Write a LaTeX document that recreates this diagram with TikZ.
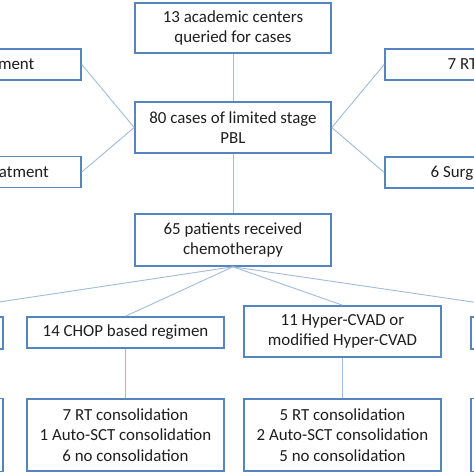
\documentclass[tikz,border=0pt]{standalone}
\usepackage{fontspec}
\setmainfont{Carlito}
\definecolor{boxblue}{RGB}{84,133,190}
\definecolor{linkblue}{RGB}{160,188,220}
\definecolor{txt}{RGB}{30,30,30}
\tikzset{
  box/.style={draw=boxblue, line width=1.6pt, fill=white, inner sep=0pt, align=center,
    font=\fontsize{16.9}{20.5}\selectfont, text=txt, minimum width=197pt},
  lbl/.style={inner sep=0pt, font=\fontsize{16.9}{20.5}\selectfont, text=txt},
  link/.style={draw=linkblue, line width=0.9pt}
}
\begin{document}
\begin{tikzpicture}[x=1pt,y=-1pt]
\useasboundingbox (0,0) rectangle (474,474);
\fill[white] (0,0) rectangle (474,474);
\clip (0,0) rectangle (474,474);
% main column
\node[box, minimum width=196pt, minimum height=50pt] (top) at (233,28) {13 academic centers\\queried for cases};
\node[box, minimum width=196pt, minimum height=51pt] (mid) at (233,127.5) {80 cases of limited stage\\PBL};
\node[box, minimum width=196pt, minimum height=52pt] (chemo) at (233,240) {65 patients received\\chemotherapy};
% side boxes (partly outside)
\node[box, minimum height=31pt] (l1) at (-17.5,64.5) {};
\node[box, minimum height=31pt] (l2) at (-17.5,172) {};
\node[box, minimum height=31pt] (r1) at (483.5,64.5) {};
\node[box, minimum height=31pt] (r2) at (483.5,172.5) {};
\node[lbl, anchor=base east] (l1t) at (34.5,69.5) {ment};
\node[lbl, anchor=base east] (l2t) at (49,177.5) {atment};
\node[lbl, anchor=base west] (r1t) at (447.5,69.5) {7 RT};
\node[lbl, anchor=base west] (r2t) at (430.5,177.5) {6 Surg};
% regimen row
\node[box, minimum height=32pt] (fl) at (-95.5,333) {};
\node[box, minimum height=31pt] (chop) at (125.5,332.5) {14 CHOP based regimen};
\node[box, minimum height=51pt] (hyper) at (342.5,331.5) {11 Hyper-CVAD or\\modified Hyper-CVAD};
\node[box, minimum height=32pt] (fr) at (569.5,333) {};
% consolidation row
\node[box, minimum height=73pt] (flc) at (-95.5,435) {};
\node[box, minimum height=72pt] (chopc) at (125.5,435) {7 RT consolidation\\1 Auto-SCT consolidation\\6 no consolidation};
\node[box, minimum height=72pt] (hyperc) at (342.5,435) {5 RT consolidation\\2 Auto-SCT consolidation\\5 no consolidation};
\node[box, minimum height=73pt] (frc) at (569.5,435) {};
% connectors
\begin{scope}[on background layer/.try]
\end{scope}
\draw[link] (top.south) -- (mid.north);
\draw[link] (mid.south) -- (chemo.north);
\draw[link] (mid.west) -- (l1.east);
\draw[link] (mid.west) -- (l2.east);
\draw[link] (mid.east) -- (r1.west);
\draw[link] (mid.east) -- (r2.west);
\draw[link] (chemo.south) -- (fl.north);
\draw[link] (chemo.south) -- (chop.north);
\draw[link] (chemo.south) -- (hyper.north);
\draw[link] (chemo.south) -- (fr.north);
\draw[link] (chop.south) -- (chopc.north);
\draw[link] (hyper.south) -- (hyperc.north);
\end{tikzpicture}
\end{document}
